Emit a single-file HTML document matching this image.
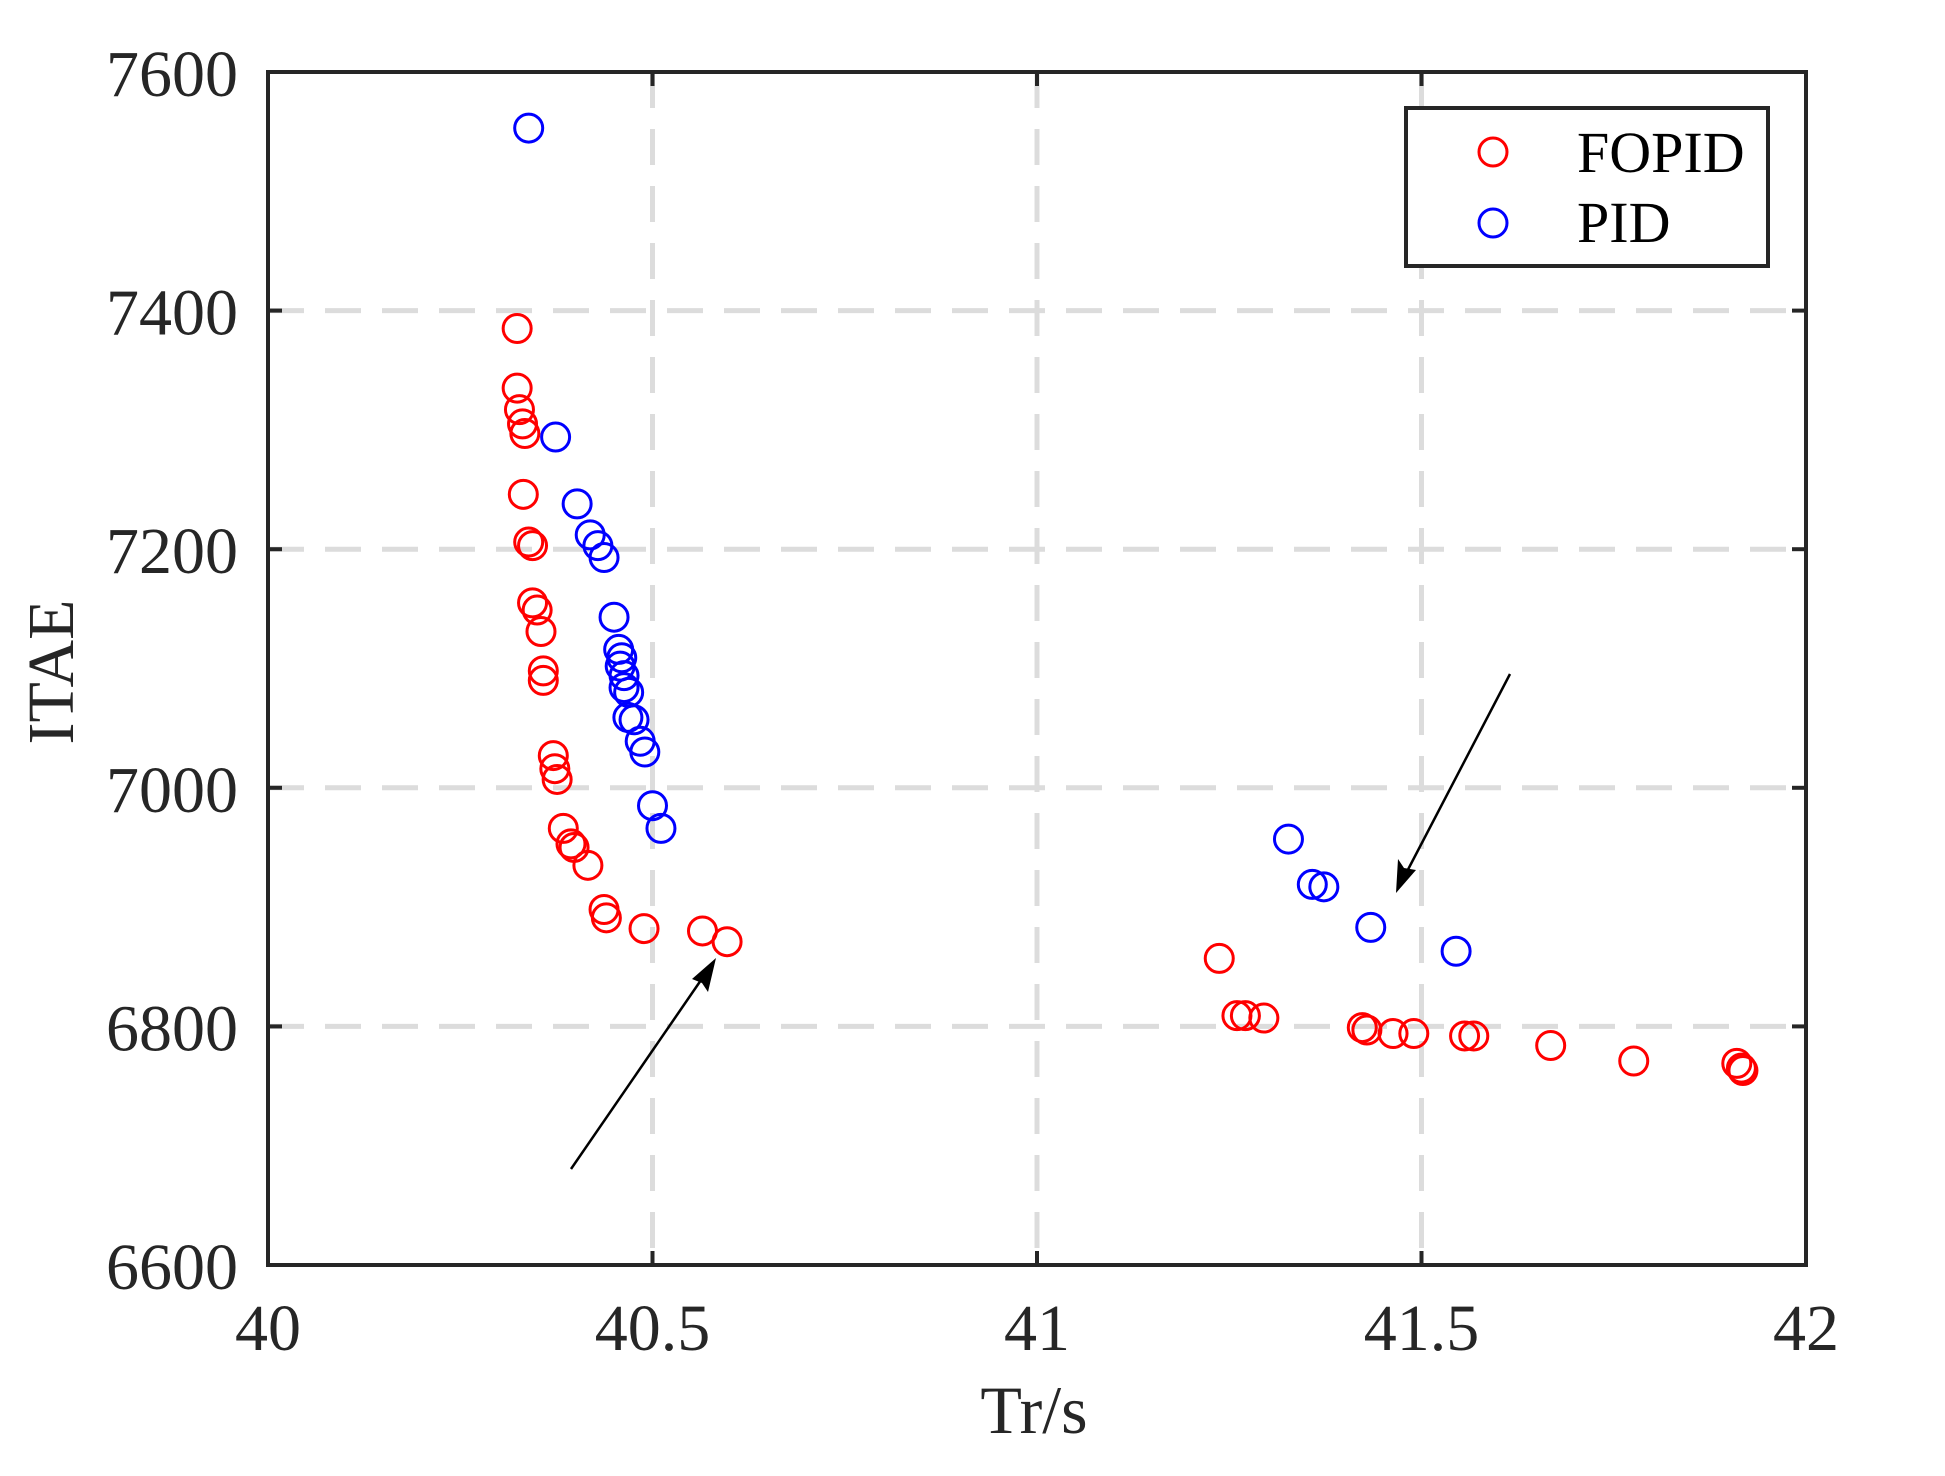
<!DOCTYPE html>
<html><head><meta charset="utf-8"><style>
html,body{margin:0;padding:0;background:#fff;}
svg{display:block;}
text{font-family:"Liberation Serif",serif;fill:#262626;}
</style></head><body>
<svg id="chart" width="1945" height="1476" viewBox="0 0 1945 1476">
<g id="grid"></g>
<g id="ticks"></g>
<g id="marks"></g>
<rect x="268" y="72" width="1538" height="1193" fill="none" stroke="#262626" stroke-width="4"/>
<g>
<line x1="571" y1="1169" x2="710" y2="967" stroke="#000" stroke-width="2.5"/>
<polygon points="716,958 708,992 702,983 692,979" fill="#000"/>
</g>
<g>
<line x1="1510" y1="674" x2="1401" y2="883" stroke="#000" stroke-width="2.5"/>
<polygon points="1396,893 1398,859 1404,868 1416,870" fill="#000"/>
</g>
<g>
<rect x="1406" y="108" width="362" height="158" fill="#fff" stroke="#262626" stroke-width="4"/>
<circle cx="1493" cy="152" r="14" fill="none" stroke="#f00" stroke-width="3"/>
<text x="1577" y="172" font-size="58" style="fill:#000">FOPID</text>
<circle cx="1493" cy="223" r="14" fill="none" stroke="#00f" stroke-width="3"/>
<text x="1577" y="242" font-size="58" style="fill:#000">PID</text>
</g>
<text x="1034" y="1433" font-size="68" text-anchor="middle">Tr/s</text>
<text transform="translate(73,672) rotate(-90)" font-size="66" text-anchor="middle">ITAE</text>
</svg>
<script>
const xTicks = [40, 40.5, 41, 41.5, 42];
const xTickLabels = ["40", "40.5", "41", "41.5", "42"];
const yTicks = [6600, 6800, 7000, 7200, 7400, 7600];
const yTickLabels = ["6600", "6800", "7000", "7200", "7400", "7600"];
const fopidX = [40.324,40.324,40.327,40.331,40.334,40.332,40.339,40.344,40.344,40.350,40.355,40.358,40.358,40.371,40.373,40.376,40.384,40.394,40.398,40.416,40.437,40.440,40.489,40.565,40.597,41.237,41.260,41.271,41.295,41.423,41.429,41.463,41.490,41.556,41.568,41.668,41.776,41.910,41.916,41.918];
const fopidY = [7385,7335,7317,7305,7297,7246,7206,7203,7155,7149,7131,7098,7090,7027,7016,7007,6966,6953,6950,6935,6898,6891,6882,6880,6871,6857,6809,6809,6807,6799,6797,6794,6794,6792,6792,6784,6771,6769,6765,6763];
const pidX = [40.339,40.374,40.402,40.419,40.429,40.437,40.450,40.456,40.460,40.458,40.463,40.463,40.469,40.468,40.476,40.484,40.490,40.500,40.511,41.327,41.358,41.373,41.434,41.545];
const pidY = [7553,7294,7238,7212,7203,7193,7143,7116,7109,7102,7094,7084,7080,7059,7057,7039,7030,6985,6966,6957,6919,6917,6883,6863];

const X0=268, X1=1806, Y0=1265, Y1=72;
function sx(v){return X0+(v-40)/(42-40)*(X1-X0);}
function sy(v){return Y0-(v-6600)/(7600-6600)*(Y0-Y1);}
const NS="http://www.w3.org/2000/svg";
function mk(tag, parent){const e=document.createElementNS(NS,tag);parent.appendChild(e);return e;}
const grid=document.getElementById('grid'), ticks=document.getElementById('ticks'), marks=document.getElementById('marks');

xTicks.forEach((t,i)=>{
  const x=sx(t);
  if(i>0 && i<xTicks.length-1){
    const g=mk('line',grid);
    
    
    g.setAttribute('x1',x);g.setAttribute('x2',x);g.setAttribute('y1',Y1);g.setAttribute('y2',Y0);
    g.setAttribute('stroke','#dcdcdc');g.setAttribute('stroke-width','5');g.setAttribute('stroke-dasharray','36 21');
  }
  [[Y0,Y0-14],[Y1,Y1+14]].forEach(p=>{
    const l=mk('line',ticks);
    
    
    l.setAttribute('x1',x);l.setAttribute('x2',x);l.setAttribute('y1',p[0]);l.setAttribute('y2',p[1]);
    l.setAttribute('stroke','#262626');l.setAttribute('stroke-width','4');
  });
  const tx=mk('text',ticks);
  
  
  tx.setAttribute('x',x);tx.setAttribute('y',1350);tx.setAttribute('font-size','66');tx.setAttribute('text-anchor','middle');
  tx.textContent=xTickLabels[i];
});
yTicks.forEach((t,i)=>{
  const y=sy(t);
  if(i>0 && i<yTicks.length-1){
    const g=mk('line',grid);
    
    
    g.setAttribute('x1',X0);g.setAttribute('x2',X1);g.setAttribute('y1',y);g.setAttribute('y2',y);
    g.setAttribute('stroke','#dcdcdc');g.setAttribute('stroke-width','5');g.setAttribute('stroke-dasharray','36 21');
  }
  [[X0,X0+14],[X1,X1-14]].forEach(p=>{
    const l=mk('line',ticks);
    
    
    l.setAttribute('x1',p[0]);l.setAttribute('x2',p[1]);l.setAttribute('y1',y);l.setAttribute('y2',y);
    l.setAttribute('stroke','#262626');l.setAttribute('stroke-width','4');
  });
  const tx=mk('text',ticks);
  
  
  tx.setAttribute('x',238);tx.setAttribute('y',y+24);tx.setAttribute('font-size','66');tx.setAttribute('text-anchor','end');
  tx.textContent=yTickLabels[i];
});
function plot(xs,ys,color,name){
  xs.forEach((v,i)=>{
    const c=mk('circle',marks);
    
    
    c.setAttribute('cx',sx(v));c.setAttribute('cy',sy(ys[i]));c.setAttribute('r','14');
    c.setAttribute('fill','none');c.setAttribute('stroke',color);c.setAttribute('stroke-width','3');
  });
}
plot(fopidX,fopidY,'#f00','fopid-point');
plot(pidX,pidY,'#00f','pid-point');
</script>
</body></html>
